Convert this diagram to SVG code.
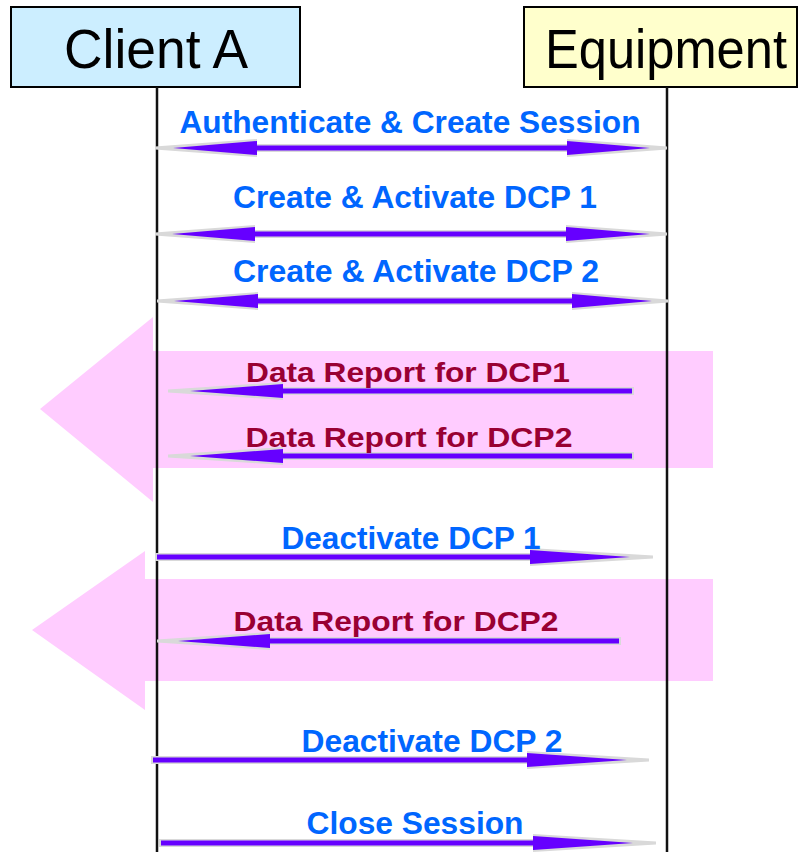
<svg xmlns="http://www.w3.org/2000/svg" width="802" height="852" viewBox="0 0 802 852">
<style>
.hdr{font-family:"Liberation Sans",Arial,sans-serif;font-size:55px;fill:#000;text-anchor:middle}
.box{stroke:#000;stroke-width:2}
.life{stroke:#111;stroke-width:2.5;fill:none}
.big{fill:#ffccff}
.ag{fill:#d9d9d9}
.ap{fill:#6600ff}
.lb{font-family:"Liberation Sans",Arial,sans-serif;font-weight:bold;font-size:31px;fill:#0066ff;text-anchor:middle}
.lr{font-family:"Liberation Sans",Arial,sans-serif;font-weight:bold;font-size:28px;fill:#990033;text-anchor:middle}
</style>
<rect width="802" height="852" fill="#fff"/>
<g id="flows">
<polygon class="big" points="40,409 153,317 153,351 713,351 713,468 153,468 153,502"/>
<polygon class="big" points="32,630 145,551 145,579 713,579 713,681 145,681 145,710"/>
</g>
<g id="client">
<rect class="box" x="11" y="7" width="289" height="80" fill="#cceeff"/>
<text class="hdr" x="156" y="68" textLength="184" lengthAdjust="spacingAndGlyphs">Client A</text>
<line class="life" x1="157" y1="87" x2="157" y2="852"/>
</g>
<g id="equipment">
<rect class="box" x="524" y="7" width="273" height="80" fill="#ffffcc"/>
<text class="hdr" x="666" y="68" textLength="242" lengthAdjust="spacingAndGlyphs">Equipment</text>
<line class="life" x1="667" y1="87" x2="667" y2="852"/>
</g>
<g id="connectors">
<path class="ag" d="M155,146.5 L257,139 L257,144 L567,144 L567,139 L667,146.5 L667,149.5 L567,157 L567,152 L257,152 L257,157 L155,149.5 Z"/>
<path class="ap" d="M173,148 L257,141 L257,145.5 L567,145.5 L567,141 L650,148 L567,155 L567,150.5 L257,150.5 L257,155 Z"/>
<text class="lb" x="410" y="133" textLength="461" lengthAdjust="spacingAndGlyphs">Authenticate &amp; Create Session</text>
<path class="ag" d="M155,232.5 L255,225 L255,230 L566,230 L566,225 L667,232.5 L667,235.5 L566,243 L566,238 L255,238 L255,243 L155,235.5 Z"/>
<path class="ap" d="M172,234 L255,227 L255,231.5 L566,231.5 L566,227 L650,234 L566,241 L566,236.5 L255,236.5 L255,241 Z"/>
<text class="lb" x="415" y="208" textLength="364" lengthAdjust="spacingAndGlyphs">Create &amp; Activate DCP 1</text>
<path class="ag" d="M157,299.5 L258,292 L258,297 L572,297 L572,292 L668,299.5 L668,302.5 L572,310 L572,305 L258,305 L258,310 L157,302.5 Z"/>
<path class="ap" d="M174,301 L258,294 L258,298.5 L572,298.5 L572,294 L652,301 L572,308 L572,303.5 L258,303.5 L258,308 Z"/>
<text class="lb" x="416" y="282" textLength="366" lengthAdjust="spacingAndGlyphs">Create &amp; Activate DCP 2</text>
<path class="ag" d="M634,387 L283,387 L283,382 L168,389.5 L168,392.5 L283,400 L283,395 L634,395 Z"/>
<path class="ap" d="M632,388.5 L283,388.5 L283,384 L190,391 L283,398 L283,393.5 L632,393.5 Z"/>
<text class="lr" x="408" y="382" textLength="324" lengthAdjust="spacingAndGlyphs">Data Report for DCP1</text>
<path class="ag" d="M634,452 L283,452 L283,447 L168,454.5 L168,457.5 L283,465 L283,460 L634,460 Z"/>
<path class="ap" d="M632,453.5 L283,453.5 L283,449 L190,456 L283,463 L283,458.5 L632,458.5 Z"/>
<text class="lr" x="409" y="447" textLength="327" lengthAdjust="spacingAndGlyphs">Data Report for DCP2</text>
<path class="ag" d="M155,553 L530,553 L530,548 L653,555.5 L653,558.5 L530,566 L530,561 L155,561 Z"/>
<path class="ap" d="M157,554.5 L530,554.5 L530,550 L630,557 L530,564 L530,559.5 L157,559.5 Z"/>
<text class="lb" x="411" y="549" textLength="259" lengthAdjust="spacingAndGlyphs">Deactivate DCP 1</text>
<path class="ag" d="M621,637 L270,637 L270,632 L157,639.5 L157,642.5 L270,650 L270,645 L621,645 Z"/>
<path class="ap" d="M619,638.5 L270,638.5 L270,634 L178,641 L270,648 L270,643.5 L619,643.5 Z"/>
<text class="lr" x="396" y="631" textLength="325" lengthAdjust="spacingAndGlyphs">Data Report for DCP2</text>
<path class="ag" d="M151,756 L527,756 L527,751 L649,758.5 L649,761.5 L527,769 L527,764 L151,764 Z"/>
<path class="ap" d="M153,757.5 L527,757.5 L527,753 L627,760 L527,767 L527,762.5 L153,762.5 Z"/>
<text class="lb" x="432" y="752" textLength="261" lengthAdjust="spacingAndGlyphs">Deactivate DCP 2</text>
<path class="ag" d="M159,839 L533,839 L533,834 L656,841.5 L656,844.5 L533,852 L533,847 L159,847 Z"/>
<path class="ap" d="M161,840.5 L533,840.5 L533,836 L633,843 L533,850 L533,845.5 L161,845.5 Z"/>
<text class="lb" x="415" y="834" textLength="217" lengthAdjust="spacingAndGlyphs">Close Session</text>
</g>
</svg>
